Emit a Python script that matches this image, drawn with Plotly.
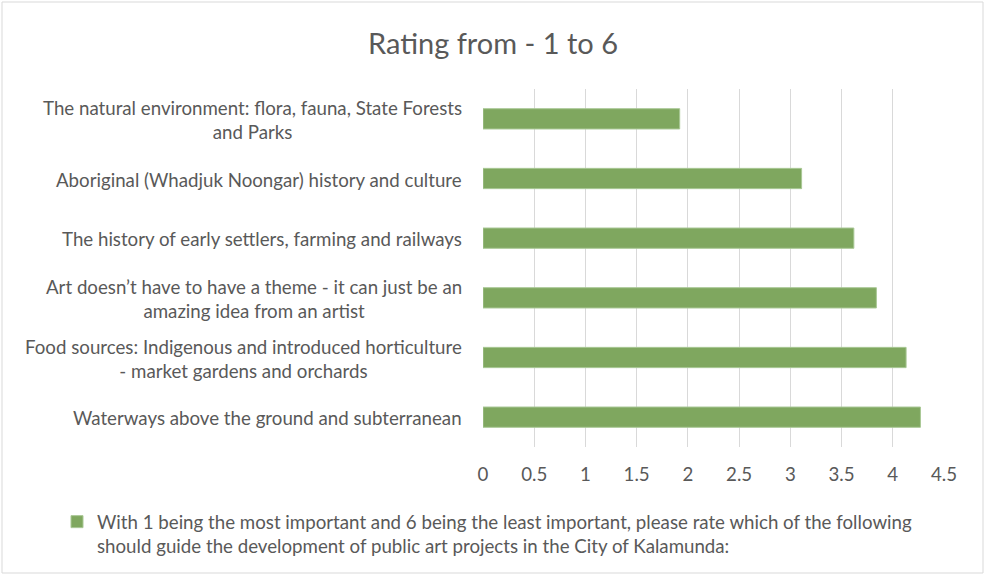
import plotly.graph_objects as go

categories = [
    "The natural environment: flora, fauna, State Forests<br>and Parks",
    "Aboriginal (Whadjuk Noongar) history and culture",
    "The history of early settlers, farming and railways",
    "Art doesn’t have to have a theme - it can just be an<br>amazing idea from an artist",
    "Food sources: Indigenous and introduced horticulture<br>- market gardens and orchards",
    "Waterways above the ground and subterranean",
]
values = [1.92, 3.11, 3.62, 3.84, 4.13, 4.27]
tick_vals = [0, 0.5, 1, 1.5, 2, 2.5, 3, 3.5, 4, 4.5]
tick_text = ["0", "0.5", "1", "1.5", "2", "2.5", "3", "3.5", "4", "4.5"]
series_name = ("With 1 being the most important and 6 being the least important, please rate which of the following"
               "<br>should guide the development of public art projects in the City of Kalamunda:")
title_text = "Rating from - 1 to 6"

W, H = 986, 576
ML, MR, MT, MB = 483, 42, 89, 129
FONT = "Lato, Carlito, Calibri, sans-serif"
GRAY = "#595959"
FS = 18.7

fig = go.Figure()
fig.add_trace(go.Bar(
    x=values, y=categories, orientation="h", name=series_name,
    marker=dict(color="#7fa75f", line=dict(color="#a9c895", width=1)),
    showlegend=True,
))

for c in categories:
    fig.add_annotation(x=0, xref="paper", y=c, yref="y", text=c, showarrow=False,
                       xanchor="right", xshift=-19, yshift=-1, align="center",
                       font=dict(family=FONT, size=FS, color=GRAY))

pw = W - ML - MR
ph = H - MT - MB
fig.add_shape(type="rect", xref="paper", yref="paper",
              x0=(2 - ML) / pw, x1=(W - 3 - ML) / pw,
              y0=-(MB - 3) / ph, y1=1 + (MT - 2) / ph,
              line=dict(color="#d9d9d9", width=1), layer="below")

fig.update_layout(
    width=W, height=H,
    margin=dict(l=ML, r=MR, t=MT, b=MB, pad=0),
    paper_bgcolor="white", plot_bgcolor="white",
    title=dict(text=title_text, x=0.5, xref="container", xanchor="center",
               y=1 - 44 / H, yref="container", yanchor="middle",
               font=dict(family=FONT, size=29, color=GRAY)),
    bargap=0.66,
    font=dict(family=FONT, size=FS, color=GRAY),
    xaxis=dict(range=[0, 4.5], tickvals=tick_vals, ticktext=tick_text,
               showgrid=True, gridcolor="#d9d9d9", gridwidth=1,
               zeroline=False, showline=False, ticks="",
               ticklabelstandoff=14,
               tickfont=dict(family=FONT, size=FS, color=GRAY)),
    yaxis=dict(autorange="reversed", showticklabels=False, showgrid=False,
               zeroline=False, showline=False, ticks=""),
    legend=dict(orientation="h", xref="container", yref="container",
                x=57 / W, y=1 - 503 / H, xanchor="left", yanchor="top",
                valign="top", font=dict(family=FONT, size=FS, color=GRAY),
                itemwidth=30, traceorder="normal"),
)

fig.write_html("out.html", config={"displayModeBar": False},
               post_script="document.body.style.margin='0';document.body.style.overflow='hidden';")
